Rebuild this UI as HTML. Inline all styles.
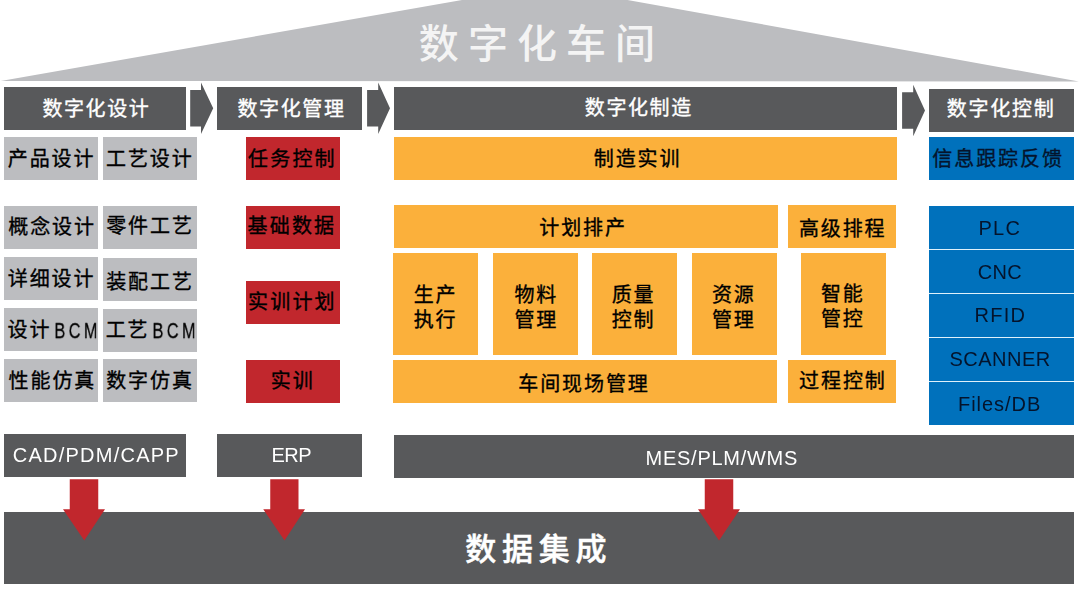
<!DOCTYPE html>
<html lang="zh-CN">
<head>
<meta charset="utf-8">
<title>数字化车间</title>
<style>
html,body{margin:0;padding:0;background:#fff}
body{width:1080px;height:608px;position:relative;overflow:hidden;font-family:"Liberation Sans",sans-serif}
.b{position:absolute;box-sizing:border-box;display:flex;align-items:center;justify-content:center}
.col .tx{flex-direction:column}
.tx{display:flex;align-items:center;justify-content:center;white-space:nowrap}
.ln{display:flex;align-items:center}
.g{display:block;flex:none;overflow:visible}
.dk{background:#58595b}
.gy{background:#bcbdc0}
.rd{background:#c1272d}
.og{background:#fbb03b}
.bl{background:#0071bc}
.sep{background:#dff1fb}
.lt{display:inline-block;font-size:20px;line-height:20px;color:#000;letter-spacing:1px;white-space:nowrap;will-change:transform}
.bcm{display:inline-block;width:43px;height:22px;margin-left:3px;overflow:visible}
.bcm span{display:inline-block;font-size:21.5px;line-height:22px;letter-spacing:4.5px;-webkit-text-stroke:.3px #000;transform:scaleX(.76);transform-origin:0 50%;will-change:transform;white-space:nowrap}
.wt .lt{color:#fff}
.blt .lt{color:#04142c}
.ct{display:block;flex:none;font-family:"Liberation Sans","Noto Sans CJK SC",sans-serif;font-size:20px;line-height:19px;height:19px;white-space:nowrap;color:#000;-webkit-text-stroke:.35px currentColor}
.cw{color:#fff}
.cb{color:#04142c}
.s5{letter-spacing:1.6px}
.s5b{letter-spacing:1.76px}
.s4{letter-spacing:1.9px}
.s4r{letter-spacing:2.2px}
.s2{letter-spacing:1.8px}
.s6{letter-spacing:1.93px}
.big{display:block;flex:none;font-family:"Liberation Sans","Noto Sans CJK SC",sans-serif;font-weight:500;white-space:nowrap}
#shapes,#arrows{position:absolute;left:0;top:0}
#title{position:absolute;left:0;top:0;width:1080px;height:81px;display:flex;justify-content:center}
</style>
</head>
<body>
<svg id="shapes" width="1080" height="608" viewBox="0 0 1080 608" aria-hidden="true"><path fill="#bcbdc0" d="M0.8 81L462 0H627.5L1078.8 81.4Z"/><path fill="#58595b" d="M190.2 90.1H201V82.6L213.2 108.3L201 134V126.5H190.2ZM367.1 90.1H378.2V82.6L390 108.3L378.2 134V126.5H367.1ZM902.1 92.3H913.2V84.8L925 110.5L913.2 136.2V128.7H902.1Z"/></svg>
<div id="title"><div class="tx" style="position:absolute;left:418.8px;top:25px"><span class="big" style="font-size:40px;line-height:39.5px;height:39.5px;letter-spacing:9.08px;color:#f4f4f4">数字化车间</span></div></div>
<div class="b dk" style="left:4px;top:87px;width:182px;height:43px;"><div class="tx" style="transform:translate(1.4px,0.6px)"><span class="ct cw s5">数字化设计</span></div></div>
<div class="b dk" style="left:217px;top:87px;width:145px;height:43px;"><div class="tx" style="transform:translate(2px,0.8px)"><span class="ct cw s5">数字化管理</span></div></div>
<div class="b dk" style="left:394px;top:87px;width:503px;height:43px;"><div class="tx" style="transform:translate(-6.7px,-0.2px)"><span class="ct cw s5">数字化制造</span></div></div>
<div class="b dk" style="left:929px;top:89px;width:145px;height:43px;"><div class="tx" style="transform:translate(-0.3px,-1.3px)"><span class="ct cw s5b">数字化控制</span></div></div>
<div class="b gy" style="left:4px;top:137px;width:94px;height:43px;"><div class="tx" style="transform:translate(0.6px,1.1px)"><span class="ct s4">产品设计</span></div></div>
<div class="b gy" style="left:103px;top:137px;width:94px;height:43px;"><div class="tx" style="transform:translate(-0.2px,1.1px)"><span class="ct s4">工艺设计</span></div></div>
<div class="b gy" style="left:4px;top:206px;width:94px;height:43px;"><div class="tx" style="transform:translate(1.1px,0.2px)"><span class="ct s4">概念设计</span></div></div>
<div class="b gy" style="left:103px;top:206px;width:94px;height:43px;"><div class="tx" style="transform:translate(0px,-1.5px)"><span class="ct s4">零件工艺</span></div></div>
<div class="b gy" style="left:4px;top:257px;width:94px;height:43px;"><div class="tx" style="transform:translate(0.6px,0.5px)"><span class="ct s4">详细设计</span></div></div>
<div class="b gy" style="left:103px;top:258px;width:94px;height:43px;"><div class="tx" style="transform:translate(0px,2.5px)"><span class="ct s4">装配工艺</span></div></div>
<div class="b gy" style="left:4px;top:308px;width:94px;height:43px;"><div class="tx" style="transform:translate(1.4px,1.1px)"><span class="ct s2">设计</span><span class="bcm"><span>BCM</span></span></div></div>
<div class="b gy" style="left:103px;top:309px;width:94px;height:43px;"><div class="tx" style="transform:translate(0.5px,0.1px)"><span class="ct s2">工艺</span><span class="bcm"><span>BCM</span></span></div></div>
<div class="b gy" style="left:4px;top:359px;width:94px;height:43px;"><div class="tx" style="transform:translate(1.4px,0.8px)"><span class="ct s4">性能仿真</span></div></div>
<div class="b gy" style="left:103px;top:359px;width:94px;height:43px;"><div class="tx" style="transform:translate(0px,0.8px)"><span class="ct s4">数字仿真</span></div></div>
<div class="b rd" style="left:246px;top:137px;width:94px;height:43px;"><div class="tx" style="transform:translate(-0.6px,1px)"><span class="ct s4r">任务控制</span></div></div>
<div class="b rd" style="left:246px;top:206px;width:94px;height:43px;"><div class="tx" style="transform:translate(-1.1px,-0.9px)"><span class="ct s4r">基础数据</span></div></div>
<div class="b rd" style="left:246px;top:281px;width:94px;height:43px;"><div class="tx" style="transform:translate(-0.6px,-0.5px)"><span class="ct s4r">实训计划</span></div></div>
<div class="b rd" style="left:246px;top:360px;width:94px;height:43px;"><div class="tx" style="transform:translate(-0.2px,0px)"><span class="ct" style="letter-spacing:2px">实训</span></div></div>
<div class="b og" style="left:394px;top:137px;width:503px;height:43px;"><div class="tx" style="transform:translate(-7.9px,0.9px)"><span class="ct s4">制造实训</span></div></div>
<div class="b og" style="left:394px;top:205px;width:384px;height:43px;"><div class="tx" style="transform:translate(-2.9px,2px)"><span class="ct s4">计划排产</span></div></div>
<div class="b og" style="left:788px;top:205px;width:108px;height:43px;"><div class="tx" style="transform:translate(0.7px,2.6px)"><span class="ct s4">高级排程</span></div></div>
<div class="b og col" style="left:393px;top:253px;width:85px;height:102px;"><div class="tx" style="transform:translate(0px,3.5px)"><div class="ln"><span class="ct s2">生产</span></div><div class="ln" style="margin-top:6px"><span class="ct s2">执行</span></div></div></div>
<div class="b og col" style="left:493px;top:253px;width:85px;height:102px;"><div class="tx" style="transform:translate(0.7px,3.5px)"><div class="ln"><span class="ct s2">物料</span></div><div class="ln" style="margin-top:6px"><span class="ct s2">管理</span></div></div></div>
<div class="b og col" style="left:592px;top:253px;width:85px;height:102px;"><div class="tx" style="transform:translate(-1px,3.5px)"><div class="ln"><span class="ct s2">质量</span></div><div class="ln" style="margin-top:6px"><span class="ct s2">控制</span></div></div></div>
<div class="b og col" style="left:692px;top:253px;width:85px;height:102px;"><div class="tx" style="transform:translate(-0.7px,3.5px)"><div class="ln"><span class="ct s2">资源</span></div><div class="ln" style="margin-top:6px"><span class="ct s2">管理</span></div></div></div>
<div class="b og col" style="left:801px;top:253px;width:85px;height:102px;"><div class="tx" style="transform:translate(-0.7px,2.7px)"><div class="ln"><span class="ct s2">智能</span></div><div class="ln" style="margin-top:6px"><span class="ct s2">管控</span></div></div></div>
<div class="b og" style="left:393px;top:360px;width:384px;height:43px;"><div class="tx" style="transform:translate(-1px,2.6px)"><span class="ct s6">车间现场管理</span></div></div>
<div class="b og" style="left:788px;top:360px;width:108px;height:43px;"><div class="tx" style="transform:translate(0.9px,0px)"><span class="ct s4">过程控制</span></div></div>
<div class="b bl" style="left:929px;top:137px;width:145px;height:43px;"><div class="tx" style="transform:translate(-3.4px,1.1px)"><span class="ct cb s6">信息跟踪反馈</span></div></div>
<div class="b bl" style="left:929px;top:206px;width:145px;height:219px;"></div>
<div class="b blt" style="left:929px;top:206px;width:145px;height:43px;"><div class="tx" style="transform:translate(-1.6px,-0.2px)"><span class="lt" style="letter-spacing:1.3px;">PLC</span></div></div>
<div class="b blt" style="left:929px;top:250px;width:145px;height:43px;"><div class="tx" style="transform:translate(-1.2px,-0.5px)"><span class="lt" style="letter-spacing:0.3px;">CNC</span></div></div>
<div class="b sep" style="left:929px;top:249px;width:145px;height:1px"></div>
<div class="b blt" style="left:929px;top:294px;width:145px;height:43px;"><div class="tx" style="transform:translate(-1.4px,-1.2px)"><span class="lt" style="letter-spacing:1.2px;">RFID</span></div></div>
<div class="b sep" style="left:929px;top:293px;width:145px;height:1px"></div>
<div class="b blt" style="left:929px;top:338px;width:145px;height:43px;"><div class="tx" style="transform:translate(-1.5px,-0.8px)"><span class="lt" style="letter-spacing:0.5px;">SCANNER</span></div></div>
<div class="b sep" style="left:929px;top:337px;width:145px;height:1px"></div>
<div class="b blt" style="left:929px;top:382px;width:145px;height:43px;"><div class="tx" style="transform:translate(-2px,0.2px)"><span class="lt" style="letter-spacing:0.95px;">Files/DB</span></div></div>
<div class="b sep" style="left:929px;top:381px;width:145px;height:1px"></div>
<div class="b dk wt" style="left:4px;top:434px;width:182px;height:43px;"><div class="tx" style="transform:translate(1.7px,-0.9px)"><span class="lt" style="letter-spacing:1.25px;">CAD/PDM/CAPP</span></div></div>
<div class="b dk wt" style="left:217px;top:434px;width:145px;height:43px;"><div class="tx" style="transform:translate(1.5px,-1.4px)"><span class="lt" style="letter-spacing:-0.5px;">ERP</span></div></div>
<div class="b dk wt" style="left:394px;top:435px;width:680px;height:43px;"><div class="tx" style="transform:translate(-12.4px,1.2px)"><span class="lt" style="letter-spacing:0.72px;">MES/PLM/WMS</span></div></div>
<div class="b dk" style="left:4px;top:512px;width:1070px;height:72px;"><div class="tx" style="transform:translate(-0.3px,1.8px)"><span class="big" style="font-size:31px;line-height:30.5px;height:30.5px;letter-spacing:5.69px;color:#fff;-webkit-text-stroke:.5px #fff">数据集成</span></div></div>
<svg id="arrows" width="1080" height="608" viewBox="0 0 1080 608" aria-hidden="true"><path fill="#c1272d" d="M69.75 479.25H98.25V509.25H105L84.25 540.5L63 509.25H69.75ZM270.25 479.25H298.5V509.25H305L284.5 540.5L263.25 509.25H270.25ZM704.75 479.25H733.25V509.25H740L719 540.5L698 509.25H704.75Z"/></svg>
</body>
</html>
